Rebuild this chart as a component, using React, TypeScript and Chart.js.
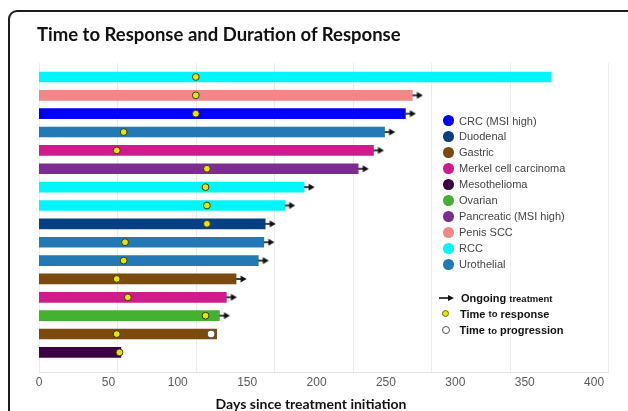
import React, { useEffect, useRef } from "react";
import { Chart, registerables } from "chart.js";

Chart.register(...registerables);

// ---- Data ----
const rowTumors = [
  "RCC",
  "Penis SCC",
  "CRC (MSI high)",
  "Urothelial",
  "Merkel cell carcinoma",
  "Pancreatic (MSI high)",
  "RCC",
  "RCC",
  "Duodenal",
  "Urothelial",
  "Urothelial",
  "Gastric",
  "Merkel cell carcinoma",
  "Ovarian",
  "Gastric",
  "Mesothelioma",
];
const durationDays = [369, 269, 264, 249, 241, 230, 191, 177, 163, 162, 158, 142, 135, 130, 128, 59];
const responseDays = [113, 113, 113, 61, 56, 121, 120, 121, 121, 62, 61, 56, 64, 120, 56, 58];
const ongoingTreatment = [false, true, true, true, true, true, true, true, true, true, true, true, true, true, false, false];
const progressionDays: (number | null)[] = [null, null, null, null, null, null, null, null, null, null, null, null, null, null, 124, null];

const tumorTypes = [
  "CRC (MSI high)",
  "Duodenal",
  "Gastric",
  "Merkel cell carcinoma",
  "Mesothelioma",
  "Ovarian",
  "Pancreatic (MSI high)",
  "Penis SCC",
  "RCC",
  "Urothelial",
];
const tumorColors = [
  "#0000f5",
  "#063f84",
  "#7b4a0c",
  "#cf1b8c",
  "#3c0242",
  "#45b132",
  "#7b2e90",
  "#f28886",
  "#00f6f8",
  "#2379b6",
];
const xTicks = [0, 50, 100, 150, 200, 250, 300, 350, 400];

const X_MAX = 410;
const GRID_STEP = 56.6; // spacing of the faint background grid (in days)

function makeArrow(): HTMLCanvasElement {
  const c = document.createElement("canvas");
  c.width = 26;
  c.height = 10;
  const g = c.getContext("2d")!;
  g.strokeStyle = "#111";
  g.fillStyle = "#111";
  g.lineWidth = 1.6;
  g.beginPath();
  g.moveTo(13, 5);
  g.lineTo(19.5, 5);
  g.stroke();
  g.beginPath();
  g.moveTo(17.5, 1.5);
  g.lineTo(23.5, 5);
  g.lineTo(17.5, 8.5);
  g.closePath();
  g.fill();
  return c;
}

const legendFont = '"Liberation Sans", Arial, sans-serif';

export default function App() {
  const canvasRef = useRef<HTMLCanvasElement | null>(null);

  useEffect(() => {
    const canvas = canvasRef.current;
    if (!canvas) return;
    const arrow = makeArrow();
    const barColors = rowTumors.map((t) => tumorColors[tumorTypes.indexOf(t)]);

    const chart = new Chart(canvas, {
      type: "bar",
      data: {
        datasets: [
          {
            type: "scatter",
            label: "Time to progression",
            data: progressionDays
              .map((v, i) => (v === null ? null : { x: v, y: i }))
              .filter((p) => p !== null) as any,
            pointStyle: "circle",
            pointRadius: 4,
            backgroundColor: "#ffffff",
            borderColor: "#555555",
            borderWidth: 1.5,
            xAxisID: "x",
            yAxisID: "y",
            order: 1,
          } as any,
          {
            type: "scatter",
            label: "Time to response",
            data: responseDays.map((v, i) => ({ x: v, y: i })),
            pointStyle: "circle",
            pointRadius: 3.4,
            backgroundColor: "#e8e40a",
            borderColor: "#3a3a10",
            borderWidth: 1,
            xAxisID: "x",
            yAxisID: "y",
            order: 1,
          } as any,
          {
            type: "scatter",
            label: "Ongoing treatment",
            data: durationDays
              .map((v, i) => (ongoingTreatment[i] ? { x: v, y: i } : null))
              .filter((p) => p !== null) as any,
            pointStyle: arrow,
            pointRadius: 5,
            xAxisID: "x",
            yAxisID: "y",
            order: 2,
          } as any,
          {
            type: "bar",
            label: "Duration",
            indexAxis: "y",
            data: durationDays.map((v, i) => ({ x: v, y: i })),
            backgroundColor: barColors,
            borderWidth: 0,
            barThickness: 10,
            xAxisID: "x",
            yAxisID: "y",
            order: 3,
          } as any,
        ],
      },
      options: {
        animation: false,
        responsive: false,
        devicePixelRatio: 1,
        layout: { padding: { left: 39, right: 20, top: 63, bottom: 18 } },
        plugins: {
          legend: { display: false },
          tooltip: { enabled: false },
          title: { display: false },
        },
        scales: {
          x: {
            type: "linear",
            position: "bottom",
            offset: false,
            min: 0,
            max: X_MAX,
            afterBuildTicks: (s: any) => {
              s.ticks = xTicks.map((v) => ({ value: v }));
            },
            grid: { display: false, drawTicks: false, offset: false },
            border: { display: true, color: "#e4e4e4", width: 1 },
            ticks: {
              padding: 3,
              color: "#5a5a5a",
              font: { family: legendFont, size: 12 },
            },
          },
          x2: {
            type: "linear",
            position: "top",
            offset: false,
            min: 0,
            max: X_MAX / GRID_STEP,
            ticks: { display: false, stepSize: 1 },
            grid: { color: "#ececec", drawTicks: false, lineWidth: 1, offset: false },
            border: { display: false },
          },
          y: {
            type: "linear",
            reverse: true,
            offset: false,
            min: -0.76,
            max: 16.1,
            display: false,
            grid: { offset: false },
          },
        } as any,
      },
    });
    return () => chart.destroy();
  }, []);

  const legendTop = 120.5;
  const legendStep = 15.98;

  return (
    <div
      style={{
        position: "fixed",
        left: 0,
        top: 0,
        width: 628,
        height: 411,
        overflow: "hidden",
        background: "#ffffff",
      }}
    >
      <div
        style={{
          position: "absolute",
          left: 8,
          top: 10,
          width: 680,
          height: 480,
          border: "2px solid #1c1c1c",
          borderTopLeftRadius: 9,
          boxSizing: "border-box",
        }}
      />
      <canvas
        ref={canvasRef}
        width={628}
        height={411}
        style={{ position: "absolute", left: 0, top: 0, width: 628, height: 411 }}
      />
      <div
        style={{
          position: "absolute",
          left: 37,
          top: 23,
          fontFamily: "Lato, sans-serif",
          fontWeight: 700,
          fontSize: 18.5,
          lineHeight: "22px",
          color: "#111",
          whiteSpace: "nowrap",
        }}
      >
        Time to Response and Duration of Response
      </div>
      <div
        style={{
          position: "absolute",
          left: 0,
          width: 622,
          top: 396,
          textAlign: "center",
          fontFamily: "Lato, sans-serif",
          fontWeight: 700,
          fontSize: 14,
          lineHeight: "16px",
          color: "#111",
          whiteSpace: "nowrap",
        }}
      >
        Days since treatment initiation
      </div>
      {tumorTypes.map((t, i) => (
        <div
          key={t}
          style={{
            position: "absolute",
            left: 443,
            top: legendTop + i * legendStep - 8,
            height: 16,
            display: "flex",
            alignItems: "center",
            whiteSpace: "nowrap",
          }}
        >
          <span
            style={{
              display: "inline-block",
              width: 10.5,
              height: 10.5,
              borderRadius: "50%",
              background: tumorColors[i],
              marginRight: 5.5,
            }}
          />
          <span style={{ fontFamily: legendFont, fontSize: 11, color: "#444" }}>{t}</span>
        </div>
      ))}
      {/* marker legend */}
      <div
        style={{
          position: "absolute",
          left: 438,
          top: 298 - 8,
          height: 16,
          display: "flex",
          alignItems: "center",
          whiteSpace: "nowrap",
          fontFamily: legendFont,
          fontWeight: 700,
          color: "#111",
        }}
      >
        <svg width={17} height={8} style={{ marginRight: 6 }}>
          <line x1={1} y1={4} x2={11} y2={4} stroke="#111" strokeWidth={1.6} />
          <polygon points="10,1 16,4 10,7" fill="#111" />
        </svg>
        <span style={{ fontSize: 11 }}>Ongoing</span>
        <span style={{ fontSize: 9.5, marginLeft: 3 }}>treatment</span>
      </div>
      <div
        style={{
          position: "absolute",
          left: 442,
          top: 313.5 - 8,
          height: 16,
          display: "flex",
          alignItems: "center",
          whiteSpace: "nowrap",
          fontFamily: legendFont,
          fontWeight: 700,
          color: "#111",
        }}
      >
        <span
          style={{
            display: "inline-block",
            width: 5,
            height: 5,
            borderRadius: "50%",
            background: "#e8e40a",
            border: "1px solid #6a6a10",
            marginRight: 11,
          }}
        />
        <span style={{ fontSize: 11 }}>Time</span>
        <span style={{ fontSize: 9.5, marginLeft: 3, marginRight: 3 }}>to</span>
        <span style={{ fontSize: 11 }}>response</span>
      </div>
      <div
        style={{
          position: "absolute",
          left: 441.5,
          top: 330 - 8,
          height: 16,
          display: "flex",
          alignItems: "center",
          whiteSpace: "nowrap",
          fontFamily: legendFont,
          fontWeight: 700,
          color: "#111",
        }}
      >
        <span
          style={{
            display: "inline-block",
            width: 6,
            height: 6,
            borderRadius: "50%",
            background: "#fff",
            border: "1.2px solid #555",
            marginRight: 10,
          }}
        />
        <span style={{ fontSize: 11 }}>Time</span>
        <span style={{ fontSize: 9.5, marginLeft: 3, marginRight: 3 }}>to</span>
        <span style={{ fontSize: 11 }}>progression</span>
      </div>
    </div>
  );
}
